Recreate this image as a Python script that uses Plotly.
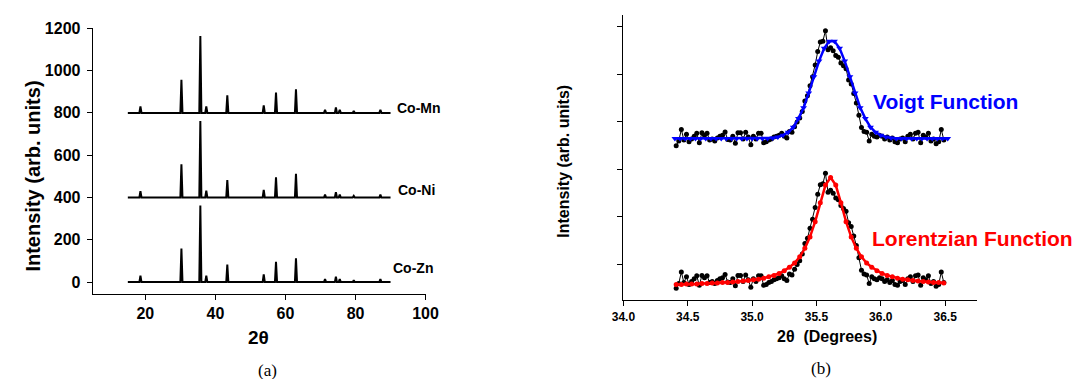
import plotly.graph_objects as go

# ---------------- Panel (a): XRD patterns ----------------
two_theta_start = 15.0
two_theta_end = 90.0
peak_positions = [18.6, 30.3, 35.7, 37.4, 43.4, 53.8, 57.3, 63.0, 71.3, 74.4, 75.5, 79.5, 87.1]
co_zn_heights = [31, 159, 362, 31, 83, 37, 96, 113, 15, 26, 15, 9, 15]
co_ni_heights = [30, 157, 362, 32, 82, 36, 95, 112, 14, 25, 14, 8, 14]
co_mn_heights = [30, 157, 363, 31, 83, 36, 96, 111, 14, 26, 15, 9, 15]
sample_names = ["Co-Mn", "Co-Ni", "Co-Zn"]
sample_offsets = [800, 400, 0]
x_ticks_a = [20, 40, 60, 80, 100]
y_ticks_a = [0, 200, 400, 600, 800, 1000, 1200]

# ---------------- Panel (b): peak fits ----------------
theta_meas = [34.41, 34.43, 34.45, 34.47, 34.49, 34.51, 34.53, 34.55, 34.57, 34.59,
              34.61, 34.63, 34.65, 34.67, 34.69, 34.71, 34.73, 34.75, 34.77, 34.79,
              34.81, 34.83, 34.85, 34.87, 34.89, 34.91, 34.93, 34.95, 34.97, 34.99,
              35.01, 35.03, 35.05, 35.07, 35.09, 35.11, 35.13, 35.15, 35.17, 35.19,
              35.21, 35.23, 35.25, 35.27, 35.29, 35.31, 35.33, 35.35, 35.37, 35.39,
              35.41, 35.43, 35.45, 35.47, 35.49, 35.51, 35.53, 35.55, 35.57, 35.59,
              35.61, 35.63, 35.65, 35.67, 35.69, 35.71, 35.73, 35.75, 35.77, 35.79,
              35.81, 35.83, 35.85, 35.87, 35.89, 35.91, 35.93, 35.95, 35.97, 35.99,
              36.01, 36.03, 36.05, 36.07, 36.09, 36.11, 36.13, 36.15, 36.17, 36.19,
              36.21, 36.23, 36.25, 36.27, 36.29, 36.31, 36.33, 36.35, 36.37, 36.39,
              36.41, 36.43, 36.45, 36.47, 36.49]
intensity_meas = [0.50, 0.60, 0.84, 0.62, 0.74, 0.58, 0.64, 0.70, 0.76, 0.56,
                  0.77, 0.72, 0.76, 0.62, 0.64, 0.60, 0.66, 0.70, 0.72, 0.79,
                  0.63, 0.62, 0.70, 0.55, 0.77, 0.77, 0.64, 0.78, 0.68, 0.52,
                  0.70, 0.64, 0.76, 0.76, 0.56, 0.58, 0.62, 0.64, 0.68, 0.70,
                  0.72, 0.76, 0.70, 0.66, 0.80, 0.78, 0.90, 1.00, 1.08, 1.22,
                  1.44, 1.55, 1.76, 1.95, 2.20, 2.48, 2.68, 2.70, 2.92, 2.52,
                  2.56, 2.50, 2.40, 2.36, 2.24, 2.18, 2.12, 1.88, 1.80, 1.60,
                  1.40, 1.14, 0.88, 0.80, 0.78, 0.60, 0.74, 0.70, 0.68, 0.72,
                  0.70, 0.64, 0.68, 0.62, 0.66, 0.58, 0.56, 0.64, 0.66, 0.58,
                  0.70, 0.74, 0.64, 0.76, 0.78, 0.56, 0.72, 0.68, 0.76, 0.60,
                  0.64, 0.54, 0.58, 0.84, 0.62]
voigt_offset = 3.0

theta_voigt = [34.40, 34.44, 34.48, 34.52, 34.56, 34.60, 34.64, 34.68, 34.72, 34.76,
               34.80, 34.84, 34.88, 34.92, 34.96, 35.00, 35.04, 35.08, 35.12, 35.16,
               35.20, 35.24, 35.28, 35.32, 35.36, 35.40, 35.44, 35.48, 35.52, 35.56,
               35.60, 35.64, 35.68, 35.72, 35.76, 35.80, 35.84, 35.88, 35.92, 35.96,
               36.00, 36.04, 36.08, 36.12, 36.16, 36.20, 36.24, 36.28, 36.32, 36.36,
               36.40, 36.44, 36.48, 36.52]
voigt_fit = [3.65, 3.65, 3.65, 3.65, 3.65, 3.65, 3.65, 3.65, 3.65, 3.65,
             3.65, 3.65, 3.65, 3.65, 3.65, 3.65, 3.65, 3.65, 3.65, 3.66,
             3.68, 3.72, 3.78, 3.89, 4.07, 4.30, 4.61, 4.95, 5.28, 5.55,
             5.70, 5.70, 5.55, 5.28, 4.95, 4.61, 4.30, 4.07, 3.89, 3.78,
             3.72, 3.68, 3.66, 3.65, 3.65, 3.65, 3.65, 3.65, 3.65, 3.65,
             3.65, 3.65, 3.65, 3.65]

theta_lorentz = [34.41, 34.45, 34.49, 34.53, 34.57, 34.61, 34.65, 34.69, 34.73, 34.77,
                 34.81, 34.85, 34.89, 34.93, 34.97, 35.01, 35.05, 35.09, 35.13, 35.17,
                 35.21, 35.25, 35.29, 35.33, 35.37, 35.41, 35.45, 35.49, 35.53, 35.57,
                 35.61, 35.65, 35.69, 35.73, 35.77, 35.81, 35.85, 35.89, 35.93, 35.97,
                 36.01, 36.05, 36.09, 36.13, 36.17, 36.21, 36.25, 36.29, 36.33, 36.37,
                 36.41, 36.45, 36.49]
lorentz_fit = [0.58, 0.58, 0.59, 0.59, 0.59, 0.60, 0.60, 0.61, 0.61, 0.62,
               0.62, 0.63, 0.64, 0.65, 0.66, 0.68, 0.69, 0.71, 0.74, 0.77,
               0.81, 0.87, 0.94, 1.03, 1.16, 1.34, 1.58, 1.90, 2.30, 2.67,
               2.83, 2.67, 2.30, 1.90, 1.58, 1.34, 1.16, 1.03, 0.94, 0.87,
               0.81, 0.77, 0.74, 0.71, 0.69, 0.68, 0.66, 0.65, 0.64, 0.63,
               0.62, 0.62, 0.61]
x_ticks_b = [34.0, 34.5, 35.0, 35.5, 36.0, 36.5]
y_ticks_b = [1, 2, 3, 4, 5, 6]

# ---------------- build figure ----------------
FONT = "Arial, Liberation Sans, sans-serif"
SERIF = "Times New Roman, Liberation Serif, serif"

fig = go.Figure()

def stick_pattern(positions, heights, offset, half_width=0.3):
    xs = [two_theta_start]
    ys = [offset]
    for c, h in zip(positions, heights):
        xs += [c - half_width, c, c + half_width]
        ys += [offset, offset + h, offset]
    xs.append(two_theta_end)
    ys.append(offset)
    return xs, ys

for name, heights, off in zip(sample_names, [co_mn_heights, co_ni_heights, co_zn_heights], sample_offsets):
    xs, ys = stick_pattern(peak_positions, heights, off)
    fig.add_trace(go.Scatter(x=xs, y=ys, mode="lines", name=name,
                             line=dict(color="black", width=2),
                             xaxis="x", yaxis="y", showlegend=False))

# panel (b) measured data
fig.add_trace(go.Scatter(x=theta_meas, y=[v + voigt_offset for v in intensity_meas],
                         mode="lines+markers", line=dict(color="black", width=1),
                         marker=dict(color="black", size=5), xaxis="x2", yaxis="y2",
                         showlegend=False))
fig.add_trace(go.Scatter(x=theta_meas, y=intensity_meas,
                         mode="lines+markers", line=dict(color="black", width=1),
                         marker=dict(color="black", size=5), xaxis="x2", yaxis="y2",
                         showlegend=False))
fig.add_trace(go.Scatter(x=theta_voigt, y=voigt_fit, mode="lines+markers",
                         line=dict(color="#0000ff", width=2.5),
                         marker=dict(color="#0000ff", size=6, symbol="triangle-down"),
                         xaxis="x2", yaxis="y2", showlegend=False))
fig.add_trace(go.Scatter(x=theta_lorentz, y=lorentz_fit, mode="lines+markers",
                         line=dict(color="#ff0000", width=2.5),
                         marker=dict(color="#ff0000", size=5, symbol="circle"),
                         xaxis="x2", yaxis="y2", showlegend=False))

W, H = 1088, 379
def px_x(p): return p / W
def px_y(p): return (H - p) / H

axis_common = dict(showline=True, linecolor="black", linewidth=1.3, ticks="outside",
                   ticklen=5, tickwidth=1.3, tickcolor="black", showgrid=False,
                   zeroline=False, mirror=False)

fig.update_layout(
    width=W, height=H, margin=dict(l=0, r=0, t=0, b=0),
    paper_bgcolor="white", plot_bgcolor="white",
    xaxis=dict(domain=[px_x(82.7), px_x(423.3)], anchor="y", range=[5, 100],
               tickvals=x_ticks_a,
               tickfont=dict(family=FONT, size=16, color="black", weight="bold"),
               **axis_common),
    yaxis=dict(domain=[px_y(291.7), px_y(20.7)], anchor="x", range=[-54, 1200],
               tickvals=y_ticks_a, ticklabelstandoff=3,
               tickfont=dict(family=FONT, size=16, color="black", weight="bold"),
               **axis_common),
    xaxis2=dict(domain=[px_x(625.8), px_x(988.0)], anchor="y2", range=[34.0, 36.75],
                tickvals=x_ticks_b, tickformat=".1f",
                tickfont=dict(family=FONT, size=12, color="black", weight="bold"),
                **axis_common),
    yaxis2=dict(domain=[px_y(298.3), px_y(7.3)], anchor="x2", range=[0.252, 6.247],
                tickvals=y_ticks_b, showticklabels=False, **axis_common),
)

def ann(text, x, y, size, color="black", family=FONT, bold=True, angle=0,
        xanchor="center", yanchor="middle", xref="paper", yref="paper"):
    fig.add_annotation(text=text, x=x, y=y, xref=xref, yref=yref, showarrow=False,
                       textangle=angle, xanchor=xanchor, yanchor=yanchor,
                       font=dict(family=family, size=size, color=color,
                                 weight="bold" if bold else "normal"))

# panel (a) titles and labels
ann("Intensity (arb. units)", px_x(22), px_y(171.7), 20, angle=-90)
ann("2θ", px_x(252), px_y(336.7), 19)
ann("(a)", px_x(261.7), px_y(370), 17, family=SERIF, bold=False)
label_x = [91.2, 91.5, 90.0]
label_y = [825, 436, 68]
for name, lx, ly in zip(sample_names, label_x, label_y):
    ann(name, lx, ly, 14, xanchor="left", xref="x", yref="y")

# panel (b) titles and labels
ann("Intensity (arb. units)", px_x(564.5), px_y(156.5), 16, angle=-90)
ann("2θ  (Degrees)", px_x(834.3), px_y(335.5), 16)
ann("(b)", px_x(828), px_y(368), 17, family=SERIF, bold=False)
ann("Voigt Function", px_x(879), px_y(95.5), 21, color="#0000ff", xanchor="left")
ann("Lorentzian Function", px_x(878.5), px_y(235), 21, color="#ff0000", xanchor="left")

fig.write_html("out.html")
